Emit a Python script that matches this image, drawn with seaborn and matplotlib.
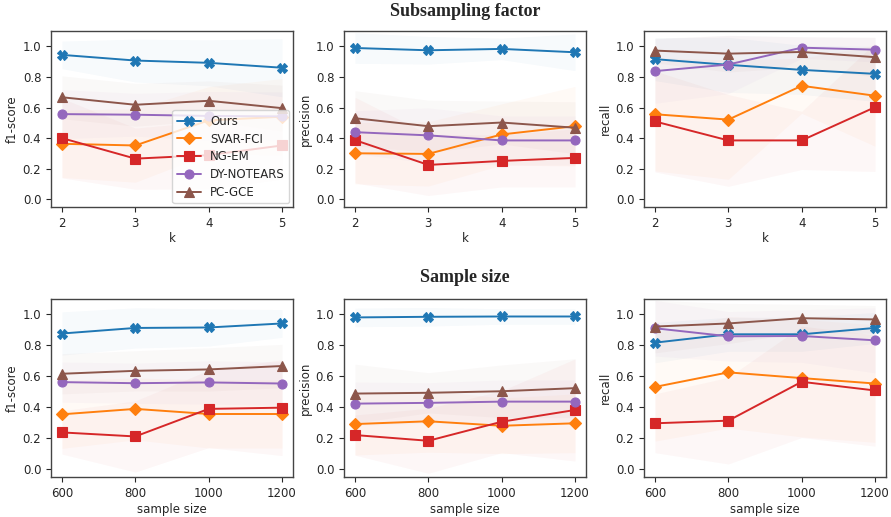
import numpy as np
import matplotlib
matplotlib.use('Agg')
import matplotlib.pyplot as plt
import seaborn as sns

methods = ['Ours', 'SVAR-FCI', 'NG-EM', 'DY-NOTEARS', 'PC-GCE']
colors = ['#1f77b4', '#ff7f0e', '#d62728', '#9467bd', '#8c564b']
markers = ['X', 'D', 's', 'o', '^']

k_vals = [2, 3, 4, 5]
n_vals = [600, 800, 1000, 1200]

# subsampling factor k -- means
k_f1 = {
    'Ours': [0.944, 0.907, 0.892, 0.860],
    'SVAR-FCI': [0.363, 0.352, 0.516, 0.540],
    'NG-EM': [0.400, 0.266, 0.289, 0.352],
    'DY-NOTEARS': [0.557, 0.553, 0.545, 0.542],
    'PC-GCE': [0.667, 0.618, 0.644, 0.596],
}
k_prec = {
    'Ours': [0.989, 0.974, 0.983, 0.961],
    'SVAR-FCI': [0.301, 0.297, 0.424, 0.478],
    'NG-EM': [0.387, 0.225, 0.251, 0.271],
    'DY-NOTEARS': [0.439, 0.418, 0.385, 0.385],
    'PC-GCE': [0.530, 0.478, 0.502, 0.468],
}
k_rec = {
    'Ours': [0.916, 0.879, 0.846, 0.820],
    'SVAR-FCI': [0.556, 0.521, 0.742, 0.677],
    'NG-EM': [0.509, 0.385, 0.385, 0.602],
    'DY-NOTEARS': [0.838, 0.881, 0.991, 0.978],
    'PC-GCE': [0.972, 0.952, 0.963, 0.929],
}
# subsampling factor k -- std (bands)
k_f1_sd = {
    'Ours': [0.09, 0.14, 0.15, 0.19],
    'SVAR-FCI': [0.22, 0.24, 0.22, 0.25],
    'NG-EM': [0.26, 0.20, 0.22, 0.22],
    'DY-NOTEARS': [0.16, 0.14, 0.16, 0.16],
    'PC-GCE': [0.14, 0.14, 0.13, 0.15],
}
k_prec_sd = {
    'Ours': [0.10, 0.09, 0.07, 0.12],
    'SVAR-FCI': [0.20, 0.21, 0.20, 0.26],
    'NG-EM': [0.28, 0.20, 0.17, 0.19],
    'DY-NOTEARS': [0.14, 0.18, 0.16, 0.16],
    'PC-GCE': [0.18, 0.17, 0.14, 0.17],
}
k_rec_sd = {
    'Ours': [0.14, 0.18, 0.16, 0.18],
    'SVAR-FCI': [0.37, 0.39, 0.18, 0.33],
    'NG-EM': [0.33, 0.30, 0.19, 0.42],
    'DY-NOTEARS': [0.21, 0.19, 0.07, 0.08],
    'PC-GCE': [0.08, 0.12, 0.10, 0.13],
}

# sample size -- means
n_f1 = {
    'Ours': [0.877, 0.913, 0.916, 0.942],
    'SVAR-FCI': [0.355, 0.390, 0.357, 0.357],
    'NG-EM': [0.238, 0.212, 0.390, 0.398],
    'DY-NOTEARS': [0.563, 0.556, 0.561, 0.554],
    'PC-GCE': [0.617, 0.636, 0.645, 0.667],
}
n_prec = {
    'Ours': [0.981, 0.985, 0.987, 0.987],
    'SVAR-FCI': [0.292, 0.310, 0.281, 0.297],
    'NG-EM': [0.221, 0.184, 0.307, 0.383],
    'DY-NOTEARS': [0.424, 0.429, 0.437, 0.437],
    'PC-GCE': [0.489, 0.494, 0.504, 0.524],
}
n_rec = {
    'Ours': [0.818, 0.872, 0.872, 0.913],
    'SVAR-FCI': [0.532, 0.626, 0.589, 0.554],
    'NG-EM': [0.297, 0.314, 0.565, 0.509],
    'DY-NOTEARS': [0.911, 0.859, 0.861, 0.833],
    'PC-GCE': [0.922, 0.942, 0.976, 0.968],
}
# sample size -- std (bands)
n_f1_sd = {
    'Ours': [0.14, 0.13, 0.12, 0.09],
    'SVAR-FCI': [0.22, 0.20, 0.22, 0.22],
    'NG-EM': [0.14, 0.23, 0.25, 0.31],
    'DY-NOTEARS': [0.13, 0.13, 0.14, 0.14],
    'PC-GCE': [0.13, 0.13, 0.14, 0.14],
}
n_prec_sd = {
    'Ours': [0.06, 0.06, 0.05, 0.05],
    'SVAR-FCI': [0.20, 0.20, 0.18, 0.19],
    'NG-EM': [0.13, 0.21, 0.20, 0.33],
    'DY-NOTEARS': [0.14, 0.13, 0.14, 0.14],
    'PC-GCE': [0.19, 0.13, 0.17, 0.19],
}
n_rec_sd = {
    'Ours': [0.13, 0.11, 0.11, 0.10],
    'SVAR-FCI': [0.35, 0.36, 0.38, 0.38],
    'NG-EM': [0.19, 0.28, 0.36, 0.36],
    'DY-NOTEARS': [0.18, 0.16, 0.17, 0.21],
    'PC-GCE': [0.17, 0.13, 0.09, 0.09],
}

sns.set_style('ticks')
plt.rcParams['font.family'] = ['DejaVu Sans']
plt.rcParams['axes.edgecolor'] = '#444444'
plt.rcParams['axes.linewidth'] = 1.0

fig = plt.figure(figsize=(8.91, 5.17), dpi=100)
W, H = 891, 517
xs_left = [51, 344, 644]
ax_w = 242
rows = [(31, 207), (299, 477)]

panels = [
    (k_vals, 'k', [(k_f1, k_f1_sd, 'f1-score'), (k_prec, k_prec_sd, 'precision'), (k_rec, k_rec_sd, 'recall')]),
    (n_vals, 'sample size', [(n_f1, n_f1_sd, 'f1-score'), (n_prec, n_prec_sd, 'precision'), (n_rec, n_rec_sd, 'recall')]),
]

for r, (xv, xlabel, metrics) in enumerate(panels):
    top, bot = rows[r]
    for c, (means, sds, ylabel) in enumerate(metrics):
        ax = fig.add_axes([xs_left[c] / W, 1 - bot / H, ax_w / W, (bot - top) / H])
        for m, col in zip(methods, colors):
            lo = np.array(means[m]) - np.array(sds[m])
            hi = np.array(means[m]) + np.array(sds[m])
            ax.fill_between(xv, lo, hi, color=col, alpha=0.035, linewidth=0)
        for m, col, mk in zip(methods, colors, markers):
            sns.lineplot(x=xv, y=means[m], color=col, marker=mk, label=m,
                         markersize=6.5, markeredgecolor=col, markeredgewidth=0.8,
                         linewidth=1.4, errorbar=None, ax=ax)
        ax.set_xticks(xv)
        ax.set_ylim(-0.05, 1.1)
        ax.set_yticks([0.0, 0.2, 0.4, 0.6, 0.8, 1.0])
        ax.tick_params(labelsize=8.5, length=3.5, width=0.8)
        ax.set_xlabel(xlabel, fontsize=8.5, labelpad=2)
        ax.set_ylabel(ylabel, fontsize=8.5, labelpad=3)
        if r == 0 and c == 0:
            ax.legend(loc='lower right', fontsize=8.5, frameon=True,
                      borderaxespad=0.3, handlelength=2.0, labelspacing=0.4)
        else:
            ax.get_legend().remove()

fig.text(0.522, 1 - 12 / H, 'Subsampling factor', ha='center', va='center',
         fontsize=13, fontweight='bold', fontfamily='Liberation Serif')
fig.text(0.522, 1 - 278 / H, 'Sample size', ha='center', va='center',
         fontsize=13, fontweight='bold', fontfamily='Liberation Serif')

fig.savefig('out.png', dpi=100)
